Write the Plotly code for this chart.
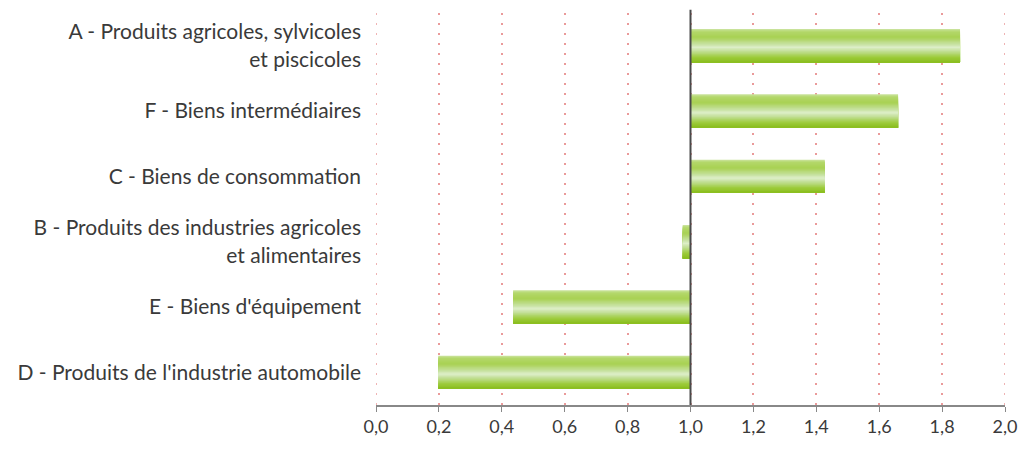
import plotly.graph_objects as go

categories = [
    "A - Produits agricoles, sylvicoles<br>et piscicoles",
    "F - Biens intermédiaires",
    "C - Biens de consommation",
    "B - Produits des industries agricoles<br>et alimentaires",
    "E - Biens d'équipement",
    "D - Produits de l'industrie automobile",
]
values = [1.857, 1.66, 1.427, 0.975, 0.436, 0.198]
baseline = 1.0
tick_vals = [0.0, 0.2, 0.4, 0.6, 0.8, 1.0, 1.2, 1.4, 1.6, 1.8, 2.0]
tick_text = ["0,0", "0,2", "0,4", "0,6", "0,8", "1,0", "1,2", "1,4", "1,6", "1,8", "2,0"]

# gradient stops for the bar fill (top -> bottom)
grad_stops = [(0.00, "#cfe6a8"), (0.07, "#b4d86c"), (0.25, "#a8d152"), (0.45, "#c6e19e"),
              (0.55, "#ddeec9"), (0.66, "#c4e09a"), (0.85, "#9ccb3a"), (1.00, "#8abd1e")]
n_stripes = 28
bar_w = 0.51


def hex2rgb(c):
    return tuple(int(c[i:i + 2], 16) for i in (1, 3, 5))


def color_at(t):
    for (t0, c0), (t1, c1) in zip(grad_stops[:-1], grad_stops[1:]):
        if t0 <= t <= t1:
            f = (t - t0) / (t1 - t0) if t1 > t0 else 0
            a, b = hex2rgb(c0), hex2rgb(c1)
            return "rgb(%d,%d,%d)" % tuple(round(a[k] + (b[k] - a[k]) * f) for k in range(3))
    return grad_stops[-1][1]


fig = go.Figure()
h = bar_w / n_stripes
ypos = list(range(len(categories)))
for i in range(n_stripes):
    fig.add_trace(go.Bar(
        y=ypos, x=[v - baseline for v in values], base=baseline,
        orientation="h", width=bar_w - i * h, offset=-bar_w / 2 + i * h,
        marker=dict(color=color_at((i + 0.5) / n_stripes), line=dict(width=0)),
        showlegend=False, hoverinfo="skip",
    ))

grid_color = "rgba(222,100,100,0.65)"
for xe in (tick_vals[0], tick_vals[-1]):
    fig.add_shape(type="line", xref="x", yref="paper", x0=xe, x1=xe, y0=1, y1=0,
                  layer="below", line=dict(color=grid_color, width=1.5, dash="2px,8px"))

fig.add_shape(type="line", xref="x", yref="paper", x0=1.0, x1=1.0, y0=0, y1=1.008,
              line=dict(color="#4a4a4a", width=2))

fig.update_layout(
    width=1022, height=449,
    margin=dict(l=376, r=17, t=13, b=44),
    paper_bgcolor="white", plot_bgcolor="white",
    barmode="overlay",
    font=dict(family="Lato, 'Open Sans', sans-serif", size=21, color="#3a3a3a"),
    xaxis=dict(
        range=[0, 2.0], tickvals=tick_vals, ticktext=tick_text,
        automargin=False, ticklabeloverflow="allow",
        showgrid=True, gridcolor=grid_color, gridwidth=1.5, griddash="2px,8px",
        zeroline=False, showline=True, linecolor="#888888", linewidth=1.5,
        ticks="outside", ticklen=5, tickcolor="#888888",
        tickfont=dict(size=18, color="#3a3a3a"),
    ),
    yaxis=dict(
        range=[len(categories) - 0.5, -0.5], tickvals=ypos, ticktext=categories,
        automargin=False,
        showgrid=False, zeroline=False, showline=False, ticks="", ticklabelstandoff=14,
        tickfont=dict(size=21, color="#3a3a3a"),
    ),
)

fig.write_html("out.html")
